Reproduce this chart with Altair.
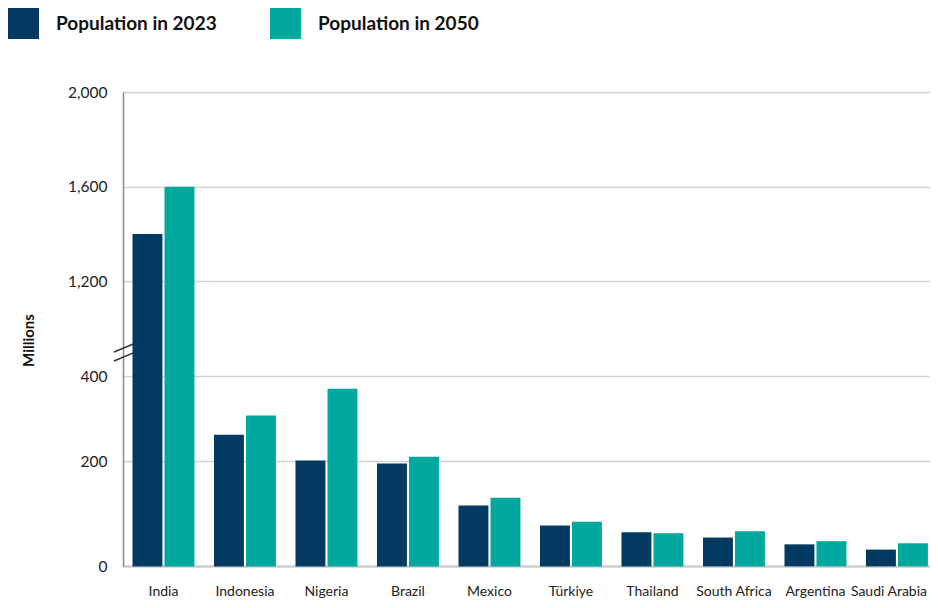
import altair as alt
import pandas as pd

countries = ["India", "Indonesia", "Nigeria", "Brazil", "Mexico", "Türkiye",
             "Thailand", "South Africa", "Argentina", "Saudi Arabia"]
pop_2023 = [1400, 263, 202, 196, 116, 78, 65, 55, 42, 32]
pop_2050 = [1600, 308, 371, 211, 131, 85, 63, 67, 48, 44]
series = ["Population in 2023", "Population in 2050"]
colors = ["#023A62", "#00A89E"]
y_ticks = [0, 200, 400, 1200, 1600, 2000]
# broken axis: piecewise scale
y_domain = [0, 200, 400, 1200, 2000]
y_range = [474.4, 369.4, 284.4, 189.4, 0]
# axis-break slashes (in data units of the hidden 400-1200 segment)
break_lo = [605, 530]
break_hi = [675, 600]

rows = []
for c, a, b in zip(countries, pop_2023, pop_2050):
    rows.append({"country": c, "series": series[0], "value": a})
    rows.append({"country": c, "series": series[1], "value": b})
df = pd.DataFrame(rows)
brk = pd.DataFrame({"lo": break_lo, "hi": break_hi})

FONT = "Lato"
yscale = alt.Scale(domain=y_domain, range=y_range, nice=False)

bars = alt.Chart(df).mark_bar().encode(
    x=alt.X("country:N", sort=countries,
            scale=alt.Scale(paddingInner=0.24, paddingOuter=0.071, align=0.82),
            axis=alt.Axis(title=None, labelAngle=0, labelFont=FONT, labelFontSize=14,
                          labelColor="#222222", labelPadding=29,
                          labelBaseline="alphabetic", ticks=False,
                          labelOffset={"condition": {"test": "datum.value === 'Saudi Arabia'",
                                                     "value": -8}, "value": 0},
                          domainColor="#cfcfcf", domainWidth=2.5)),
    xOffset=alt.XOffset("series:N", sort=series,
                        scale=alt.Scale(paddingInner=0.065, paddingOuter=0)),
    y=alt.Y("value:Q", scale=yscale,
            axis=alt.Axis(title="Millions", values=y_ticks,
                          labelExpr="format(datum.value, ',')",
                          labelFont=FONT, labelFontSize=15.5, labelColor="#222222",
                          labelPadding=16, ticks=False,
                          domainColor="#8a8a8a", domainWidth=1.5,
                          gridColor="#d2d2d2", gridWidth=1.5,
                          titleFont=FONT, titleFontSize=15, titleFontWeight="bold",
                          titleColor="#111111", titleAngle=270,
                          titleX=-95, titleY=248, titleAlign="center",
                          titleBaseline="middle")),
    color=alt.Color("series:N", sort=series,
                    scale=alt.Scale(domain=series, range=colors),
                    legend=alt.Legend(title=None, orient="none", direction="horizontal",
                                      legendX=-115, legendY=-84,
                                      symbolType="square", symbolSize=961,
                                      symbolStrokeWidth=0, labelFont=FONT,
                                      labelFontSize=19, labelFontWeight="bold",
                                      labelColor="#111111", labelOffset=17,
                                      labelLimit=400, columnPadding=53, padding=0)),
)

breaks = alt.Chart(brk).mark_rule(color="#333333", strokeWidth=1.5).encode(
    x=alt.value(-9),
    x2=alt.value(11),
    y=alt.Y("lo:Q", scale=yscale),
    y2="hi:Q",
)

chart = alt.layer(bars, breaks).properties(
    width=807,
    height=474,
    autosize=alt.AutoSizeParams(type="none"),
    padding={"left": 115, "top": 84, "right": 0, "bottom": 34},
).configure_view(strokeWidth=0)

chart.save("out.html", embed_options={"renderer": "svg", "actions": False})
